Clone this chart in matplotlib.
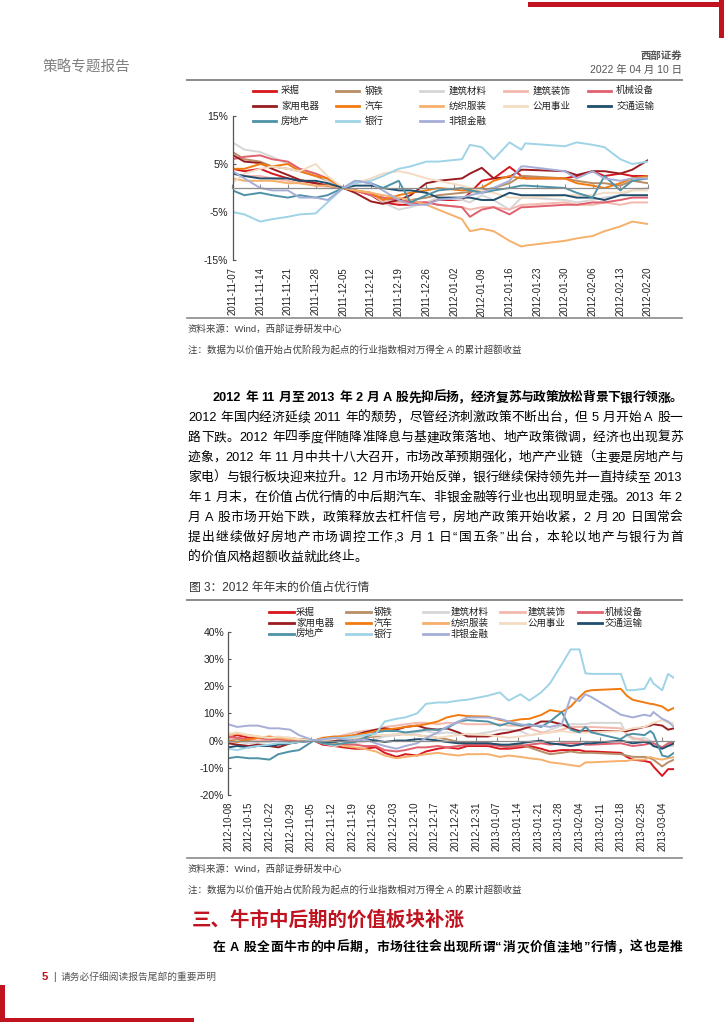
import re
import matplotlib
matplotlib.use("Agg")
import matplotlib.pyplot as plt
import matplotlib.dates as mdates
import pandas as pd
from matplotlib.lines import Line2D
from matplotlib.patches import Rectangle

W, H = 724, 1024
FONTS = ['Liberation Sans', 'Noto Sans CJK SC']
plt.rcParams['font.family'] = FONTS

# ---------------- data ----------------
names = ["采掘", "钢铁", "建筑材料", "建筑装饰", "机械设备",
         "家用电器", "汽车", "纺织服装", "公用事业", "交通运输",
         "房地产", "银行", "非银金融"]
colors = ["#d7161e", "#b98d67", "#d6d6d6", "#f3b8ad", "#e1606e",
          "#9b1c20", "#f27b10", "#f5b06c", "#f3dcc2", "#1f4e6e",
          "#4d92a6", "#9fd3e6", "#a6aed8"]

# figure 2 (2011-11 ~ 2012-02), cumulative excess return, %
f1_dates = ["2011-11-07", "2011-11-10", "2011-11-14", "2011-11-17", "2011-11-21", "2011-11-24",
            "2011-11-28", "2011-12-01", "2011-12-05", "2011-12-08", "2011-12-12", "2011-12-15",
            "2011-12-19", "2011-12-22", "2011-12-26", "2011-12-29", "2012-01-04", "2012-01-06",
            "2012-01-09", "2012-01-12", "2012-01-16", "2012-01-19", "2012-01-20", "2012-01-30",
            "2012-02-02", "2012-02-06", "2012-02-09", "2012-02-13", "2012-02-16", "2012-02-20"]
f1_mining = [4.0, 3.5, 4.0, 3.0, 2.0, 1.5, 1.0, 0.5, 0.0, -0.5, -1.5, -3.0, -3.5, -3.5, -3.0,
             -2.5, -2.5, -1.0, 1.5, 2.0, 4.4, 2.5, 2.0, 2.0, 2.5, 3.5, 2.5, 3.0, 2.5, 2.5]
f1_steel = [7.5, 6.0, 5.5, 4.5, 4.0, 3.5, 2.5, 1.5, 0.0, -0.5, -1.5, -2.0, -3.0, -2.5, -2.0,
            -1.5, -1.0, -0.8, -0.5, 0.0, 1.0, 2.5, 2.5, 2.0, 1.5, 1.0, 1.0, 0.5, 1.5, 1.0]
f1_bldmat = [9.5, 8.0, 7.5, 6.5, 5.0, 4.0, 3.0, 1.5, 0.0, -0.5, -1.0, -3.0, -4.5, -4.0, -3.0,
             -2.0, -2.5, -3.0, -1.5, -2.5, -4.5, -2.0, -2.0, -2.5, -3.0, -2.5, -2.0, -1.5, -0.5, 0.0]
f1_bldeco = [3.0, 2.5, 2.5, 2.0, 1.5, 1.0, 0.5, 0.3, 0.0, -0.5, -1.5, -2.5, -3.0, -3.0, -3.0,
             -3.5, -4.0, -4.5, -4.0, -4.0, -4.5, -3.5, -3.5, -3.0, -3.5, -3.5, -3.0, -3.5, -3.0, -3.0]
f1_machine = [6.0, 6.5, 6.8, 6.0, 5.5, 4.0, 3.0, 2.0, 0.0, -0.5, -1.5, -2.0, -2.5, -3.0, -3.0,
              -3.5, -4.0, -6.0, -4.5, -4.0, -5.5, -4.0, -4.0, -3.5, -3.5, -3.0, -3.0, -2.5, -2.0, -2.0]
f1_appliance = [6.9, 5.5, 5.2, 4.0, 2.7, 1.7, 1.0, 0.5, 0.0, -1.0, -2.8, -3.3, -2.5, -1.5, 1.0,
                1.5, 2.0, 3.0, 4.2, 2.0, 2.3, 3.8, 3.8, 3.5, 2.7, 3.5, 3.5, 3.0, 3.8, 5.8]
f1_auto = [4.0, 4.0, 5.0, 4.5, 5.0, 3.5, 2.5, 2.0, 0.0, -0.5, -1.0, -2.5, -1.5, -1.0, -0.5,
           0.0, -0.5, -0.3, 0.0, 1.5, 2.5, 2.0, 2.0, 2.0, 1.0, 0.5, 0.0, 1.0, 2.0, 2.5]
f1_textile = [2.0, 1.5, 1.5, 1.5, 1.0, 1.0, 0.5, 0.5, 0.0, -0.5, -1.0, -1.5, -2.0, -2.5, -3.5,
              -4.5, -6.5, -9.0, -8.5, -9.0, -11.0, -12.2, -12.0, -11.0, -10.5, -10.0, -9.0, -8.0, -7.0, -7.5]
f1_utility = [1.0, 3.0, 4.0, 4.5, 4.0, 3.5, 5.0, 2.5, 0.0, 1.0, 2.0, 3.0, 3.5, 3.0, 2.0,
              1.5, 0.5, 0.0, -0.5, -1.0, -2.0, -2.0, -2.0, -1.5, -1.5, -1.5, -1.0, -1.0, -0.5, -0.5]
f1_transport = [3.0, 2.5, 2.0, 2.0, 2.0, 1.5, 1.5, 1.0, 0.0, 0.5, 0.5, 0.0, -0.5, -0.5, -1.0,
                -2.0, -2.0, -2.0, -2.5, -2.5, -1.0, -1.5, -1.5, -1.5, -2.0, -2.0, -2.5, -1.5, -1.5, -1.5]
f1_realestate = [-0.5, -1.5, -1.0, -1.5, -2.0, -1.5, -2.0, -1.5, 0.0, 1.5, 1.0, 0.0, 1.5, -3.0, -1.5,
                 -0.5, 0.0, -0.5, -1.0, -0.5, 0.0, 0.5, 0.5, 0.0, -1.0, -2.0, 2.5, -0.5, 1.5, 2.0]
f1_bank = [-5.0, -5.5, -7.0, -6.5, -6.0, -5.5, -5.3, -3.0, 0.0, 1.0, 1.5, 2.5, 4.0, 4.5, 5.5,
           5.5, 6.0, 9.0, 8.5, 6.0, 9.5, 8.0, 9.3, 8.7, 9.5, 9.0, 8.5, 6.0, 5.0, 5.5]
f1_nonbank = [3.5, 2.0, 0.0, -0.5, -0.5, -2.0, -2.0, -2.5, 0.0, 1.5, 1.0, -0.5, -2.5, -3.5, -3.5,
              -2.5, -2.0, -1.5, -1.0, 0.0, 1.5, 4.5, 4.5, 3.5, 2.0, 3.5, 2.0, 1.5, 2.0, 2.0]
f1_ticks = ["2011-11-07", "2011-11-14", "2011-11-21", "2011-11-28", "2011-12-05", "2011-12-12",
            "2011-12-19", "2011-12-26", "2012-01-02", "2012-01-09", "2012-01-16", "2012-01-23",
            "2012-01-30", "2012-02-06", "2012-02-13", "2012-02-20"]
f1_yticks = [-15, -5, 5, 15]

# figure 3 (2012-10 ~ 2013-03), cumulative excess return, %
f2_dates = ["2012-10-08", "2012-10-11", "2012-10-15", "2012-10-18", "2012-10-22", "2012-10-25",
            "2012-10-29", "2012-11-01", "2012-11-06", "2012-11-09", "2012-11-13", "2012-11-16",
            "2012-11-20", "2012-11-23", "2012-11-27", "2012-11-30", "2012-12-04", "2012-12-07",
            "2012-12-11", "2012-12-14", "2012-12-18", "2012-12-21", "2012-12-25", "2012-12-28",
            "2013-01-04", "2013-01-08", "2013-01-11", "2013-01-15", "2013-01-18", "2013-01-22",
            "2013-01-25", "2013-01-29", "2013-02-01", "2013-02-04", "2013-02-06", "2013-02-08",
            "2013-02-18", "2013-02-20", "2013-02-22", "2013-02-26", "2013-02-28", "2013-03-01",
            "2013-03-04", "2013-03-06", "2013-03-08"]
f2_mining = [1.0, 2.0, 1.0, 1.0, 0.5, 0.0, 0.5, 0.5, 0.0, -1.5, -2.0, -2.5, -3.0, -3.0, -2.5,
             -4.5, -6.0, -5.0, -5.5, -4.0, -3.0, -2.5, -3.0, -2.0, -2.0, -3.0, -3.0, -2.5, -2.0,
             -3.0, -4.0, -3.5, -3.5, -3.5, -4.0, -4.0, -4.5, -6.0, -7.0, -7.5, -8.0, -9.5, -13.0, -10.5, -10.5]
f2_steel = [0.0, 0.5, 0.0, -0.5, 0.5, 1.0, 1.0, 0.5, 0.0, -0.5, 0.0, 0.5, 1.0, 1.0, 1.5,
            2.0, 2.0, 2.5, 2.0, 1.5, 1.0, 0.5, -0.5, -1.0, -1.0, -1.5, -2.0, -1.5, -2.5,
            -4.0, -5.0, -4.5, -4.0, -4.5, -4.5, -4.5, -5.0, -5.5, -6.0, -6.0, -6.5, -7.0, -9.5, -8.0, -7.0]
f2_bldmat = [-1.0, -0.5, -1.0, -1.0, -0.5, 0.0, 0.0, -0.5, 0.0, -1.0, -2.0, -1.5, -1.0, -0.5, 0.5,
             1.5, 2.0, 2.5, 3.0, 3.5, 2.5, 3.0, 2.5, 2.0, 3.0, 4.0, 4.0, 3.5, 2.0,
             2.5, 4.0, 5.5, 6.0, 6.0, 6.0, 6.5, 6.5, 2.0, 0.5, 1.0, 0.0, -1.0, -2.5, -2.0, -2.0]
f2_bldeco = [0.5, 1.0, 0.5, 0.0, 0.5, 0.5, 0.0, 0.0, 0.0, 0.5, 1.0, 2.0, 3.0, 3.5, 4.0,
             5.0, 5.5, 6.0, 6.5, 6.5, 6.0, 6.5, 6.5, 6.0, 6.0, 6.0, 5.5, 5.5, 4.5,
             3.0, 3.0, 4.0, 5.0, 5.0, 5.0, 5.0, 4.5, 2.5, 1.0, 0.0, -0.5, -1.0, -2.5, -1.5, -1.5]
f2_machine = [1.5, 1.0, 0.5, 1.0, 0.5, 0.5, 0.0, 0.5, 0.0, -0.5, -1.0, -1.5, -1.5, -2.0, -2.0,
              -3.5, -4.0, -3.5, -2.5, -2.5, -2.0, -2.5, -2.0, -1.5, -1.5, -2.0, -2.5, -2.0, -1.5,
              -1.0, -1.5, -1.0, -1.0, -1.0, -1.5, -1.5, -1.0, -1.5, -2.0, -1.5, -1.0, -1.0, -2.5, -1.0, -0.5]
f2_appliance = [-1.0, -1.5, -2.0, -1.5, -2.0, -2.5, -1.0, -0.5, 0.0, -0.5, 0.0, 1.0, 2.0, 3.0, 4.0,
                4.5, 4.0, 5.0, 5.5, 4.5, 4.0, 4.5, 3.0, 1.5, 1.5, 2.5, 3.0, 4.0, 5.0,
                7.0, 7.0, 6.0, 4.5, 3.5, 3.5, 3.5, 3.5, 3.5, 4.0, 5.0, 5.5, 6.0, 5.5, 4.0, 4.5]
f2_auto = [0.0, -0.5, 0.5, 1.0, 1.5, 1.0, 0.5, 0.5, 0.0, 1.0, 1.5, 1.5, 2.0, 2.5, 3.5,
           4.0, 4.5, 5.0, 5.5, 6.0, 7.0, 8.5, 9.4, 9.0, 8.8, 7.6, 7.0, 7.8, 8.0,
           9.4, 11.2, 10.5, 12.5, 16.0, 18.0, 18.5, 19.0, 16.5, 15.0, 14.0, 13.5, 13.4, 12.5, 11.0, 12.0]
f2_textile = [2.0, 2.5, 2.0, 1.5, 1.0, 1.0, 0.5, 0.5, 0.0, -0.5, -1.0, -2.0, -2.5, -3.0, -4.0,
              -5.5, -6.5, -6.0, -5.5, -5.0, -4.5, -5.0, -5.5, -5.0, -5.0, -6.0, -5.5, -6.0, -6.5,
              -7.0, -8.0, -8.5, -9.0, -9.5, -8.0, -8.0, -7.5, -7.5, -7.0, -7.0, -6.0, -6.5, -7.0, -6.5, -6.0]
f2_utility = [2.5, 3.0, 2.0, 1.5, 1.0, 1.5, 1.0, 0.5, 0.0, 0.0, 0.5, 1.0, 1.0, 1.5, 2.0,
              2.0, 2.5, 2.0, 2.0, 1.5, 1.0, 1.5, 2.0, 2.5, 2.0, 1.5, 1.0, 1.5, 2.0,
              2.5, 3.0, 3.5, 3.0, 3.0, 3.0, 3.0, 3.5, 4.0, 4.5, 5.0, 6.0, 6.5, 7.5, 6.5, 6.5]
f2_transport = [-2.5, -2.0, -2.5, -2.0, -2.0, -1.5, -1.0, -0.5, 0.0, -0.5, -0.5, 0.0, 0.0, 0.5, 0.0,
                -0.5, 0.0, 0.0, 0.5, 0.5, 0.0, -0.5, -1.0, -1.0, -1.0, -1.5, -1.5, -1.0, -0.5,
                0.0, -1.0, -1.5, -2.0, -1.5, -1.0, -1.0, 0.0, -0.5, -1.0, -0.5, -1.0, -2.0, -3.0, -2.0, -1.0]
f2_realestate = [-6.5, -6.0, -6.5, -6.5, -7.0, -5.0, -4.0, -3.5, 0.0, -1.0, -1.5, -1.0, -0.5, 1.0, 3.0,
                 3.5, 3.5, 3.0, 3.5, 4.0, 4.0, 4.5, 7.0, 7.5, 7.0, 5.5, 6.5, 5.5, 6.0,
                 5.0, 7.0, 10.5, 4.0, 3.0, 5.0, 3.0, 0.5, 2.0, 2.5, 2.0, 3.5, 2.5, -5.5, -6.0, -4.5]
f2_bank = [-3.0, -3.5, -2.5, -2.0, -1.5, -1.0, -1.0, -0.5, 0.0, 0.5, 1.0, 1.0, 1.5, 2.0, 2.5,
           7.0, 8.0, 8.5, 10.0, 13.5, 14.0, 14.0, 14.7, 15.0, 16.5, 17.7, 14.7, 17.0, 14.7,
           17.7, 21.0, 28.0, 33.5, 33.5, 24.7, 24.5, 24.5, 18.5, 18.5, 19.0, 23.0, 21.0, 18.5, 24.5, 23.0]
f2_nonbank = [6.0, 5.0, 5.5, 5.5, 4.5, 4.5, 4.0, 2.0, 0.0, 0.5, 1.0, 0.5, 0.0, 0.5, -1.0,
              -2.0, -3.0, -2.0, -1.0, 1.0, 3.0, 5.0, 7.0, 8.5, 8.5, 8.0, 7.0, 6.0, 5.5,
              5.5, 5.0, 6.0, 16.0, 14.5, 17.0, 16.0, 9.5, 9.0, 8.5, 9.5, 9.0, 10.5, 8.0, 7.0, 5.0]
f2_ticks = ["2012-10-08", "2012-10-15", "2012-10-22", "2012-10-29", "2012-11-05", "2012-11-12",
            "2012-11-19", "2012-11-26", "2012-12-03", "2012-12-10", "2012-12-17", "2012-12-24",
            "2012-12-31", "2013-01-07", "2013-01-14", "2013-01-21", "2013-01-28", "2013-02-04",
            "2013-02-11", "2013-02-18", "2013-02-25", "2013-03-04"]
f2_yticks = [-20, -10, 0, 10, 20, 30, 40]

f1_series = [f1_mining, f1_steel, f1_bldmat, f1_bldeco, f1_machine, f1_appliance, f1_auto,
             f1_textile, f1_utility, f1_transport, f1_realestate, f1_bank, f1_nonbank]
f2_series = [f2_mining, f2_steel, f2_bldmat, f2_bldeco, f2_machine, f2_appliance, f2_auto,
             f2_textile, f2_utility, f2_transport, f2_realestate, f2_bank, f2_nonbank]

body = [
    "2012 年国内经济延续 2011 年的颓势，尽管经济刺激政策不断出台，但 5 月开始 A 股一",
    "路下跌。2012 年四季度伴随降准降息与基建政策落地、地产政策微调，经济也出现复苏",
    "迹象，2012 年 11 月中共十八大召开，市场改革预期强化，地产产业链（主要是房地产与",
    "家电）与银行板块迎来拉升。12 月市场开始反弹，银行继续保持领先并一直持续至 2013",
    "年 1 月末，在价值占优行情的中后期汽车、非银金融等行业也出现明显走强。2013 年 2",
    "月 A 股市场开始下跌，政策释放去杠杆信号，房地产政策开始收紧，2 月 20 日国常会",
    "提出继续做好房地产市场调控工作,3 月 1 日“国五条”出台，本轮以地产与银行为首",
    "的价值风格超额收益就此终止。",
]
lead = "2012 年 11 月至 2013 年 2 月 A 股先抑后扬，经济复苏与政策放松背景下银行领涨。"

# ---------------- page ----------------
fig = plt.figure(figsize=(W / 100, H / 100), dpi=100)
fig.patch.set_facecolor("white")


def fx(px):
    return px / W


def fy(py):
    return 1 - py / H


def rect(x0, y0, x1, y1, color):
    fig.add_artist(Rectangle((fx(x0), fy(y1)), fx(x1) - fx(x0), fy(y0) - fy(y1),
                             transform=fig.transFigure, color=color, lw=0))


def hline(x0, x1, y, color="#8a8a8a", lw=1.2):
    fig.add_artist(Line2D([fx(x0), fx(x1)], [fy(y), fy(y)], transform=fig.transFigure,
                          color=color, lw=lw))


def is_wide(tok):
    return len(tok) == 1 and ord(tok) >= 0x2E80


def justify(s, x0, x1, y, fs, weight="normal", full=True):
    # lay a line out char by char so that it spans x0..x1, like the report's typesetting
    r = fig.canvas.get_renderer()
    em = fs * 100 / 72
    spw = em * 0.28
    items = []
    sp = False
    for tok in re.findall(r"[A-Za-z0-9.,%]+| +|.", s):
        if tok.isspace():
            sp = True
            continue
        if is_wide(tok):
            w = em
        else:
            t = fig.text(0, 0, tok, fontsize=fs, weight=weight)
            w = t.get_window_extent(r).width + em * 0.06
            t.remove()
        items.append((tok, w, sp))
        sp = False
    natural = sum(w for _, w, _ in items) + spw * sum(1 for *_, b in items if b)
    extra = (x1 - x0 - natural) / (len(items) - 1) if full and len(items) > 1 else 0
    x = x0
    for tok, w, b in items:
        if b:
            x += spw
        if is_wide(tok):
            fig.text(fx(x + w / 2), fy(y), tok, fontsize=fs, weight=weight, ha="center",
                     va="center", color="black")
        else:
            fig.text(fx(x), fy(y), tok, fontsize=fs, weight=weight, ha="left",
                     va="center", color="black")
        x += w + extra


def legend_rows(x0, y0, dx, dy, line_len, gap, fs):
    for i, (name, c) in enumerate(zip(names, colors)):
        row, col = divmod(i, 5)
        x = x0 + col * dx
        y = y0 + row * dy
        fig.add_artist(Line2D([fx(x), fx(x + line_len)], [fy(y), fy(y)],
                              transform=fig.transFigure, color=c, lw=2.0))
        fig.text(fx(x + line_len + gap), fy(y), name, fontsize=fs, ha="left", va="center",
                 color="#222222")


def chart(left, top, right, bottom, dates, series, ticks, yticks):
    ax = fig.add_axes([fx(left), fy(bottom), fx(right) - fx(left), fy(top) - fy(bottom)])
    x = mdates.date2num(pd.to_datetime(dates))
    for vals, c in zip(series, colors):
        ax.plot(x, vals, color=c, lw=1.4, solid_joinstyle="round")
    ax.set_xlim(x[0], x[-1])
    ax.set_ylim(yticks[0], yticks[-1])
    ax.set_facecolor("none")
    for s in ("top", "right"):
        ax.spines[s].set_visible(False)
    ax.spines["left"].set_color("#555555")
    ax.spines["left"].set_linewidth(0.9)
    ax.spines["bottom"].set_position(("data", 0))
    ax.spines["bottom"].set_color("#8c8c8c")
    ax.spines["bottom"].set_linewidth(0.9)
    tx = mdates.date2num(pd.to_datetime(ticks))
    ax.set_xticks(tx)
    ax.tick_params(axis="x", direction="in", length=3, color="#8c8c8c", labelbottom=False)
    ax.set_yticks(yticks, labels=[f"{v}%" for v in yticks])
    ax.tick_params(axis="y", direction="in", length=2.5, color="#555555", labelsize=7.5,
                   labelcolor="#222222", pad=3)
    sec = ax.secondary_xaxis(0)
    sec.set_xticks(tx, labels=ticks, rotation=90, fontsize=6.9, color="#222222")
    sec.tick_params(length=0, pad=5)
    sec.spines["bottom"].set_visible(False)
    return ax


# corner marks
rect(528, 1.5, 724, 6.5, "#c0121f")
rect(719, 0, 724, 38, "#c0121f")
rect(0, 985, 5, 1022, "#c0121f")
rect(0, 1018, 194, 1022, "#c0121f")

# header
fig.text(fx(43), fy(68), "策略专题报告", fontsize=10.5, color="#808080", ha="left", va="center")
fig.text(fx(682), fy(56), "西部证券", fontsize=7.5, weight="bold", color="#555555",
         ha="right", va="center")
fig.text(fx(682), fy(69.5), "2022 年 04 月 10 日", fontsize=7.5, color="#555555",
         ha="right", va="center")
hline(187, 682, 80, lw=1.4)

# chart 1
legend_rows(252.5, 90.8, 83.8, 15.2, 23, 5.5, 6.8)
chart(232.5, 116, 648, 260, f1_dates, f1_series, f1_ticks, f1_yticks)
hline(187, 682, 317.5, lw=1.2)
fig.text(fx(188), fy(329), "资料来源：Wind，西部证券研发中心", fontsize=6.8, color="#404040",
         ha="left", va="center")
fig.text(fx(188), fy(349.5), "注：数据为以价值开始占优阶段为起点的行业指数相对万得全 A 的累计超额收益",
         fontsize=6.8, color="#404040", ha="left", va="center")

# body text
justify(lead, 212.7, 682.7, 398.3, 9.2, weight="bold")
for i, line in enumerate(body):
    justify(line, 188, 682.7, 418.2 + 19.9 * i, 9.2, full=(i < len(body) - 1))

# chart 2
fig.text(fx(188.6), fy(588.3), "图 3：2012 年年末的价值占优行情", fontsize=8.5, color="#333333",
         ha="left", va="center")
hline(187, 682, 600, lw=1.4)
legend_rows(268.8, 612.3, 77.2, 10.7, 24.8, 2.5, 6.8)
chart(228.2, 631.7, 674, 795, f2_dates, f2_series, f2_ticks, f2_yticks)
hline(187, 682, 857.7, lw=1.2)
fig.text(fx(188), fy(869.3), "资料来源：Wind，西部证券研发中心", fontsize=6.8, color="#404040",
         ha="left", va="center")
fig.text(fx(188), fy(889.3), "注：数据为以价值开始占优阶段为起点的行业指数相对万得全 A 的累计超额收益",
         fontsize=6.8, color="#404040", ha="left", va="center")

# section heading and next paragraph
fig.text(fx(191.6), fy(920), "三、牛市中后期的价值板块补涨", fontsize=14, weight="bold",
         color="#c0121f", ha="left", va="center")
justify("在 A 股全面牛市的中后期，市场往往会出现所谓“消灭价值洼地”行情，这也是推",
        212.7, 682.7, 948, 9.2, weight="bold")

# footer
fig.text(fx(42), fy(977), "5", fontsize=8, weight="bold", color="#c0121f", ha="left", va="center")
fig.text(fx(53), fy(977), "|", fontsize=7.5, color="#555555", ha="left", va="center")
fig.text(fx(61), fy(977), "请务必仔细阅读报告尾部的重要声明", fontsize=7, color="#555555",
         ha="left", va="center")

fig.savefig("out.png", dpi=100, facecolor="white")
